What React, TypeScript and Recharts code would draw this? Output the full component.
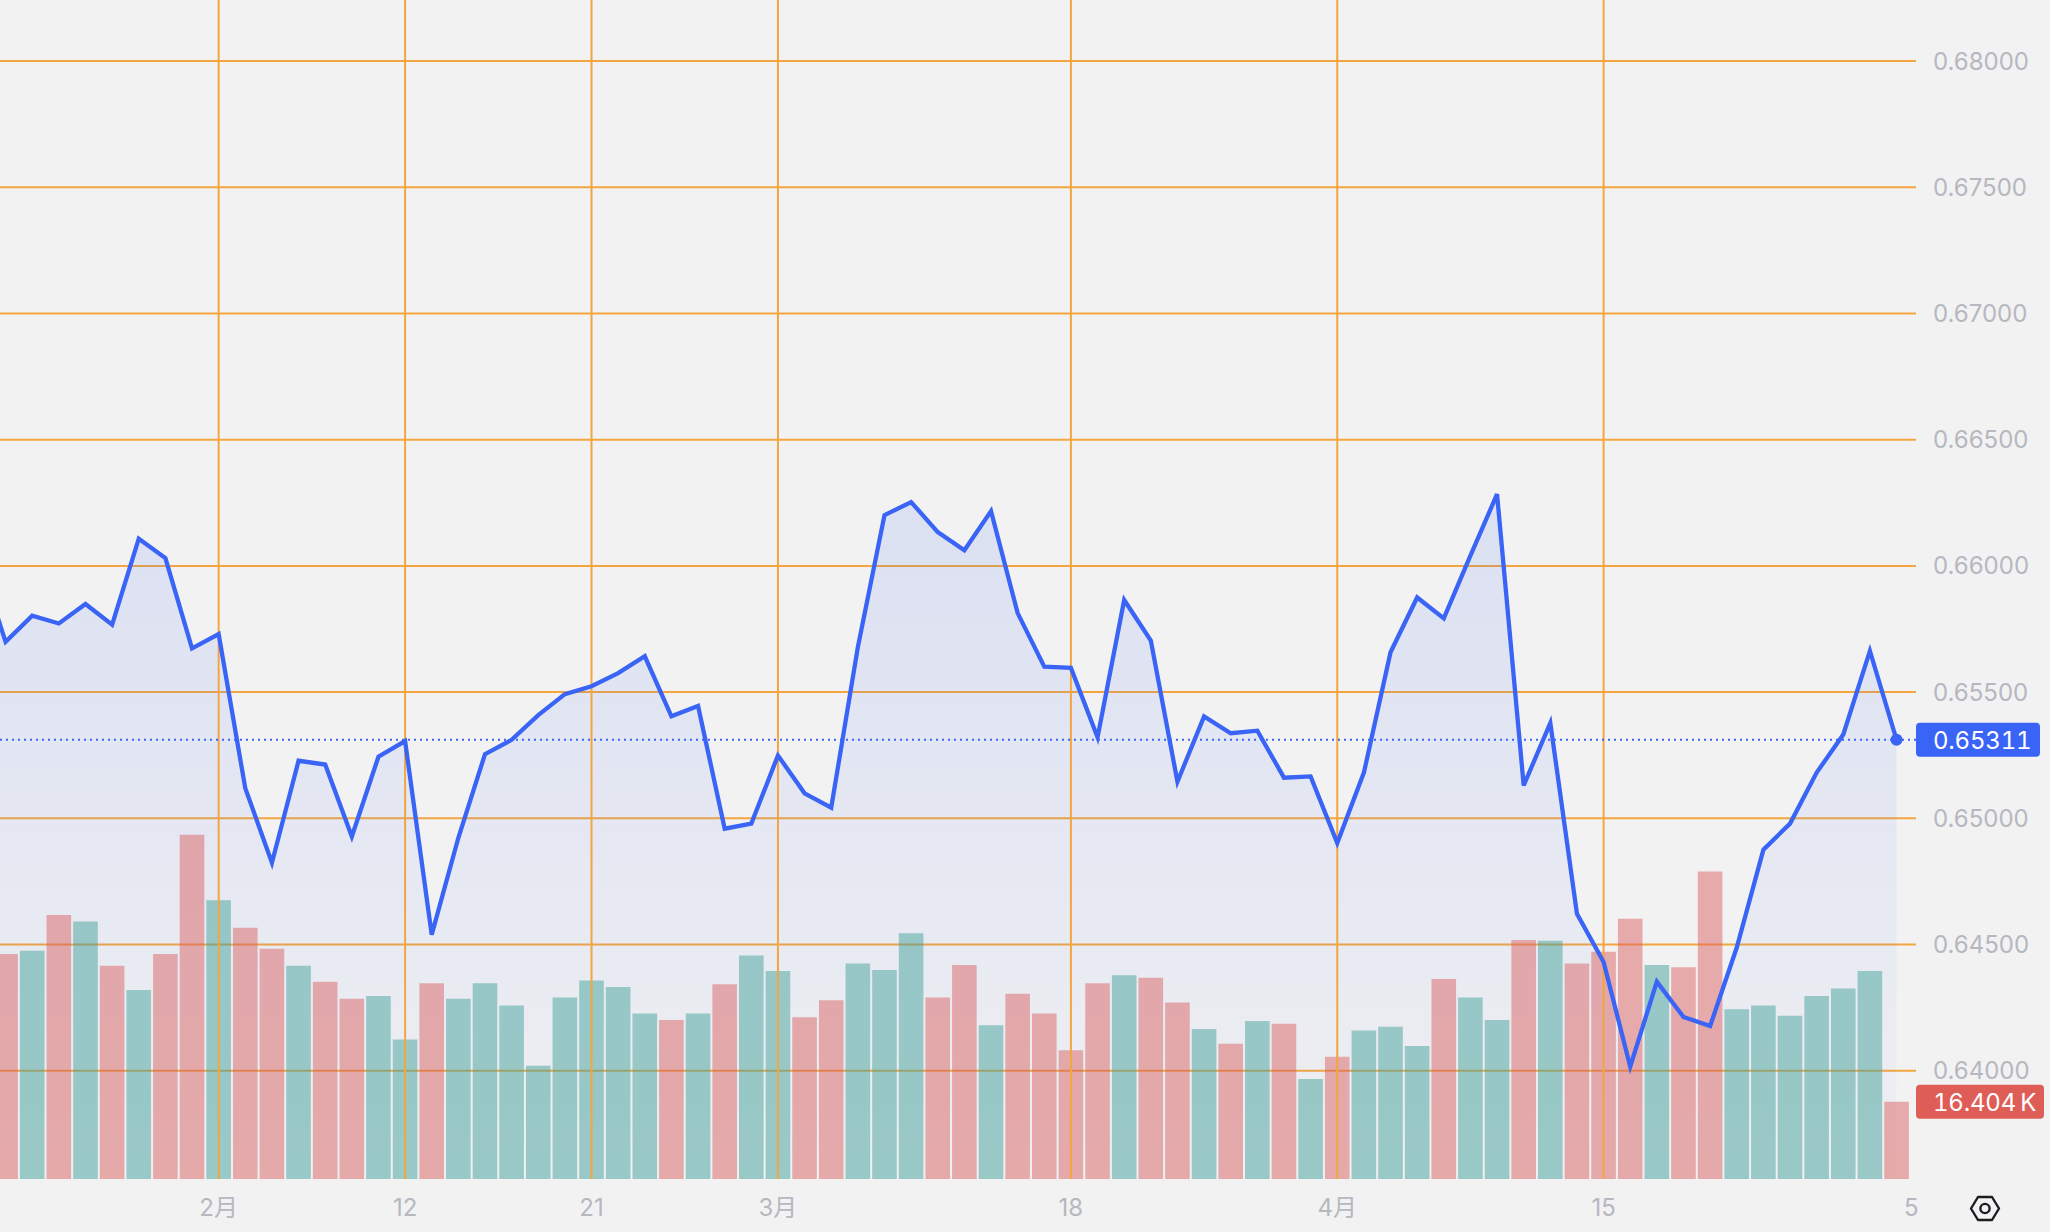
import React from 'react';
import {
  ComposedChart, Bar, Area, Line, Cell, XAxis, YAxis, CartesianGrid,
  ReferenceLine, ReferenceDot,
} from 'recharts';

const WIDTH = 2050;
const HEIGHT = 1232;
const FONT = 'Inter, "Noto Sans CJK SC", sans-serif';

// first close sits just off the left edge of the plot
const closes = [
  0.66025, 0.65699, 0.65803, 0.65772, 0.65849, 0.65767, 0.66108, 0.66031, 0.65673, 0.6573,
  0.65119, 0.64824, 0.65228, 0.65213, 0.64928, 0.65244, 0.65306, 0.64539, 0.64923, 0.65254,
  0.65311, 0.65409, 0.65492, 0.65523, 0.65575, 0.65642, 0.65404, 0.65445, 0.64959, 0.64979,
  0.65249, 0.65099, 0.65042, 0.65678, 0.66201, 0.66253, 0.66134, 0.66062, 0.66217, 0.65813,
  0.65601, 0.65596, 0.65321, 0.65865, 0.65704, 0.65145, 0.65404, 0.65337, 0.65347, 0.65161,
  0.65166, 0.64902, 0.65181, 0.65658, 0.65875, 0.65792, 0.66041, 0.66284, 0.6513, 0.65378,
  0.64622, 0.64431, 0.64016, 0.64353, 0.64213, 0.64177, 0.64488, 0.64876, 0.64979, 0.65181,
  0.65332, 0.65663, 0.65311,
];

const volumes = [
  0, 47.7, 48.4, 56.0, 54.6, 45.2, 40.1, 47.7, 73.0, 59.1,
  53.3, 48.8, 45.2, 41.8, 38.2, 38.8, 29.6, 41.5, 38.2, 41.5,
  36.8, 24.0, 38.5, 42.1, 40.7, 35.1, 33.7, 35.1, 41.3, 47.4,
  44.1, 34.3, 37.9, 45.7, 44.3, 52.1, 38.5, 45.4, 32.6, 39.3,
  35.1, 27.3, 41.5, 43.2, 42.7, 37.4, 31.8, 28.7, 33.5, 32.9,
  21.2, 25.9, 31.5, 32.3, 28.2, 42.4, 38.5, 33.7, 50.7, 50.5,
  45.7, 48.2, 55.2, 45.4, 44.9, 65.2, 36.0, 36.8, 34.6, 38.8,
  40.4, 44.1, 16.404,
];

// u = up (teal), d = down (red), one letter per volume bar
const barSides = [
  'u', 'd', 'u', 'd', 'u', 'd', 'u', 'd', 'd', 'u',
  'd', 'd', 'u', 'd', 'd', 'u', 'u', 'd', 'u', 'u',
  'u', 'u', 'u', 'u', 'u', 'u', 'd', 'u', 'd', 'u',
  'u', 'd', 'd', 'u', 'u', 'u', 'd', 'd', 'u', 'd',
  'd', 'd', 'd', 'u', 'd', 'd', 'u', 'd', 'u', 'd',
  'u', 'd', 'u', 'u', 'u', 'd', 'u', 'u', 'd', 'u',
  'd', 'd', 'd', 'u', 'd', 'd', 'u', 'u', 'u', 'u',
  'u', 'u', 'd',
];

const priceTicks = [0.64, 0.645, 0.65, 0.655, 0.66, 0.665, 0.67, 0.675, 0.68];
const dateTicks = [
  { i: 8, label: '2月' },
  { i: 15, label: '12' },
  { i: 22, label: '21' },
  { i: 29, label: '3月' },
  { i: 40, label: '18' },
  { i: 50, label: '4月' },
  { i: 60, label: '15' },
];
const trailingTick = { i: 71.55, label: '5' };

const lastClose = 0.65311;
const lastVolume = 16.404;

const rows = closes.map((close, k) => ({
  i: k - 1,
  close,
  volume: k === 0 ? null : volumes[k],
}));
const tickLabels = new Map(
  [...dateTicks, trailingTick].map((t) => [t.i, t.label] as [number, string]),
);

const PriceTag = ({ viewBox, text, fill, width }: any) => {
  const y = viewBox.y;
  const x = viewBox.x + viewBox.width;
  return (
    <g>
      <rect x={x} y={y - 17} width={width} height={34} rx={4} fill={fill} />
      <text
        x={x + 17}
        y={y + 9}
        fill="#fff"
        fontSize={24}
        fontFamily={FONT}
        letterSpacing={-0.2}
        style={{ fontFeatureSettings: '"tnum"' }}
      >
        {text}
      </text>
    </g>
  );
};

const App = () => (
  <div style={{ position: 'absolute', left: 0, top: 0, width: WIDTH, height: HEIGHT, background: '#f2f2f2', overflow: 'hidden' }}>
    <ComposedChart width={WIDTH} height={HEIGHT} data={rows} margin={{ top: 0, right: 0, bottom: 0, left: 0 }}>
      <defs>
        <linearGradient id="closeFill" x1="0" y1="0" x2="0" y2="1">
          <stop offset="0%" stopColor="#3a64f5" stopOpacity={0.125} />
          <stop offset="100%" stopColor="#3a64f5" stopOpacity={0.015} />
        </linearGradient>
      </defs>
      <XAxis
        dataKey="i"
        type="number"
        domain={[-0.21, 71.73]}
        allowDataOverflow
        ticks={[...tickLabels.keys()]}
        interval={0}
        height={53}
        tickLine={false}
        axisLine={false}
        tickMargin={14}
        tick={{ fill: '#b6b8c0', fontSize: 24, fontFamily: FONT }}
        tickFormatter={(v: number) => tickLabels.get(v) ?? ''}
      />
      <YAxis
        yAxisId="price"
        orientation="right"
        width={134}
        domain={[0.63571, 0.68242]}
        allowDataOverflow
        ticks={priceTicks}
        interval={0}
        tickLine={false}
        axisLine={false}
        tickMargin={11}
        tick={{ fill: '#b6b8c0', fontSize: 24, fontFamily: FONT }}
        tickFormatter={(v: number) => v.toFixed(5)}
      />
      <YAxis yAxisId="volume" hide domain={[0, 250]} />
      <CartesianGrid yAxisId="price" vertical={false} syncWithTicks stroke="#f3a640" strokeWidth={2} />
      {dateTicks.map((t) => (
        <ReferenceLine key={t.i} x={t.i} yAxisId="price" stroke="#f3a640" strokeWidth={2} />
      ))}
      <Bar yAxisId="volume" dataKey="volume" barSize={24.6} isAnimationActive={false}>
        {rows.map((r, k) => (
          <Cell key={r.i} fill={barSides[k] === 'u' ? 'rgba(68,162,154,0.5)' : 'rgba(218,92,92,0.48)'} />
        ))}
      </Bar>
      <Area
        yAxisId="price"
        dataKey="close"
        type="linear"
        stroke="none"
        fill="url(#closeFill)"
        fillOpacity={1}
        dot={false}
        activeDot={false}
        isAnimationActive={false}
      />
      <Line
        yAxisId="price"
        dataKey="close"
        type="linear"
        stroke="#3a64f5"
        strokeWidth={4.3}
        dot={false}
        activeDot={false}
        isAnimationActive={false}
      />
      <ReferenceLine
        yAxisId="price"
        y={lastClose}
        stroke="#3a64f5"
        strokeWidth={2}
        strokeDasharray="2 4"
        label={<PriceTag text={lastClose.toFixed(5)} fill="#3a64f5" width={124} />}
      />
      <ReferenceLine
        yAxisId="volume"
        y={lastVolume}
        stroke="none"
        label={<PriceTag text={`${lastVolume.toFixed(3)}\u2009K`} fill="#df5d57" width={128} />}
      />
      <ReferenceDot yAxisId="price" x={71} y={lastClose} r={6} fill="#3a64f5" stroke="none" />
    </ComposedChart>
    <svg width={WIDTH} height={HEIGHT} style={{ position: 'absolute', left: 0, top: 0, pointerEvents: 'none' }}>
      <path d="M1971 1208.5 L1978 1197 L1992 1197 L1999 1208.5 L1992 1220 L1978 1220 Z" fill="none" stroke="#1c1c22" strokeWidth={2.4} strokeLinejoin="round" />
      <circle cx={1985} cy={1208.5} r={4.6} fill="none" stroke="#1c1c22" strokeWidth={2.4} />
    </svg>
  </div>
);

export default App;
